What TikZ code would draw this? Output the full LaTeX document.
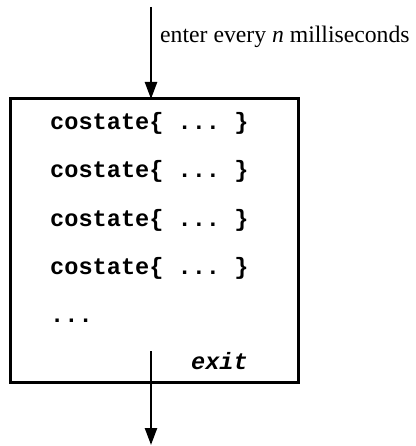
\documentclass[tikz,border=0pt]{standalone}
\usepackage{fontspec}
\setmainfont{Liberation Serif}
\setmonofont{Liberation Mono}
\usetikzlibrary{arrows.meta}
\begin{document}
\begin{tikzpicture}[x=1pt,y=-1pt,
  flow/.style={line width=2.4pt,-{Triangle[length=17pt,width=12pt]}},
  code/.style={font=\fontsize{23.6}{26}\selectfont\ttfamily\bfseries,inner sep=0pt,anchor=base west},
  caption/.style={font=\fontsize{23.7}{26}\selectfont,inner sep=0pt,anchor=base west}]
  \useasboundingbox (0,0) rectangle (415,446);
  % the task loop
  \draw[line width=3pt] (10,99) rectangle (298,382);
  \node[code] (c1) at (50,130) {costate\{ ... \}};
  \node[code] (c2) at (50,178) {costate\{ ... \}};
  \node[code] (c3) at (50,226) {costate\{ ... \}};
  \node[code] (c4) at (50,274) {costate\{ ... \}};
  \node[code] (more) at (50,322) {...};
  \node[code,anchor=base east,font=\fontsize{23.6}{26}\selectfont\ttfamily\bfseries\itshape] (exit) at (248,369) {exit};
  % entry and exit
  \coordinate (in) at (151,7);
  \coordinate (inend) at (151,99);
  \coordinate (out) at (151,351);
  \coordinate (outend) at (151,445);
  \draw[flow] (in) -- (inend);
  \draw[flow] (out) -- (outend);
  \node[caption] (lbl) at (160,43) {enter every \textit{n} milliseconds};
\end{tikzpicture}
\end{document}
